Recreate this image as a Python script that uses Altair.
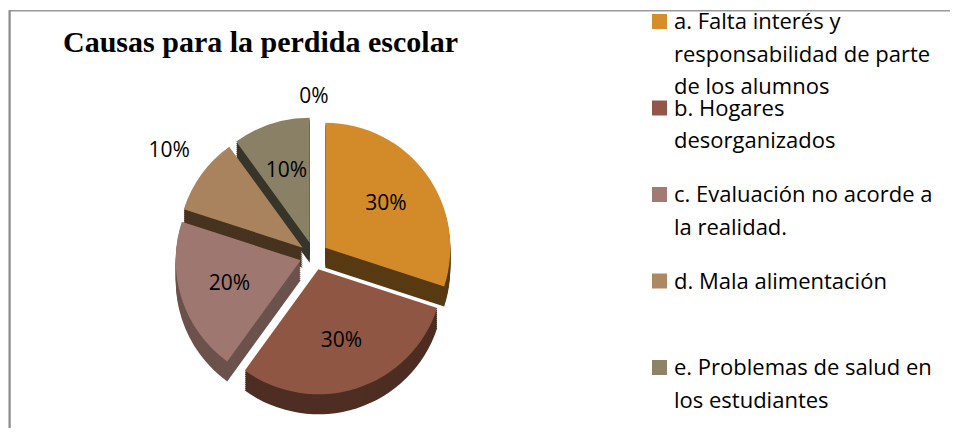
import altair as alt
import pandas as pd

# ---- data ----
keys = ["a", "b", "c", "d", "e", "f"]
categories = [
    "a. Falta interés y\nresponsabilidad de parte\nde los alumnos",
    "b. Hogares\ndesorganizados",
    "c. Evaluación no acorde a\nla realidad.",
    "d. Mala alimentación",
    "e. Problemas de salud en\nlos estudiantes",
    "",
]
values = [30, 30, 20, 10, 10, 0]
title_text = "Causas para la perdida escolar"

top_colors = ["#D38B2A", "#8F5743", "#9E7870", "#A9825E", "#8A8066", "#8A8066"]
side_colors = ["#583A13", "#4E2D22", "#6C524C", "#47331F", "#38352A", "#38352A"]
legend_colors = ["#D58E2A", "#93574A", "#A07A73", "#AC8863", "#8D8468"]

pie_df = pd.DataFrame({"key": keys, "label": categories, "value": values,
                       "idx": list(range(len(keys)))})
legend_df = pd.DataFrame({"key": keys[:5], "label": categories[:5],
                          "idx": list(range(5))})

# ---- geometry (styles) ----
W, H = 942, 420
CX, CY, R, EXP, DEPTH = 305, 248, 125, 14, 20

base = (
    alt.Chart(pie_df)
    .transform_window(cum="sum(value)", sort=[alt.SortField("idx")], frame=[None, 0])
    .transform_joinaggregate(total="sum(value)")
    .transform_calculate(
        t1="2*PI*datum.cum/datum.total",
        t0="2*PI*(datum.cum-datum.value)/datum.total",
    )
    .transform_calculate(mid="(datum.t0+datum.t1)/2")
    .transform_calculate(
        cx=f"{CX}+{EXP}*sin(datum.mid)",
        cy=f"{CY}-{EXP}*cos(datum.mid)",
        pct="format(datum.value/datum.total, '.0%')",
    )
)

def arc_layer(colors, offset):
    return base.mark_arc(radius=R, yOffset=offset).encode(
        x=alt.X("cx:Q", scale=None),
        y=alt.Y("cy:Q", scale=None),
        theta=alt.Theta("t0:Q", scale=None, stack=None),
        theta2="t1:Q",
        color=alt.Color("key:N", scale=alt.Scale(domain=keys, range=colors), legend=None),
    )

layers = []
for d in range(DEPTH, 0, -2):
    layers.append(arc_layer(side_colors, d))
layers.append(arc_layer(top_colors, 0))

labels = (
    base.transform_calculate(
        lr=f"datum.value==0 ? {R+20} : (datum.key=='d' ? {R+40} : {0.6*R})"
    )
    .transform_calculate(
        lx="datum.cx+datum.lr*sin(datum.mid)",
        ly="datum.cy-datum.lr*cos(datum.mid)",
    )
    .mark_text(font="Open Sans", fontSize=21, color="#000000")
    .encode(
        x=alt.X("lx:Q", scale=None),
        y=alt.Y("ly:Q", scale=None),
        text="pct:N",
    )
)
layers.append(labels)

leg_y = alt.Y("idx:Q", scale=alt.Scale(domain=[0, 4], range=[13.5, 359.5]), axis=None)
swatches = alt.Chart(legend_df).mark_square(size=225, opacity=1).encode(
    x=alt.value(650.5),
    y=leg_y,
    color=alt.Color("key:N", scale=alt.Scale(domain=keys[:5], range=legend_colors), legend=None),
)
leg_text = alt.Chart(legend_df).mark_text(
    font="Open Sans", fontSize=22, align="left", baseline="alphabetic",
    dy=7.5, lineBreak="\n", lineHeight=32.5, color="#000000",
).encode(x=alt.value(665), y=leg_y, text="label:N")
layers += [swatches, leg_text]

title = alt.Chart(pd.DataFrame({"t": [title_text]})).mark_text(
    font="Liberation Serif", fontSize=30, fontWeight="bold", align="left",
    baseline="alphabetic", color="#000000",
).encode(x=alt.value(54), y=alt.value(44), text="t:N")

border_top = alt.Chart(pd.DataFrame({"t": [0]})).mark_rule(color="#999999", strokeWidth=1.6).encode(
    x=alt.value(0), x2=alt.value(W), y=alt.value(2.8))
border_left = alt.Chart(pd.DataFrame({"t": [0]})).mark_rule(color="#8A8A8A", strokeWidth=2.2).encode(
    x=alt.value(0.6), y=alt.value(2), y2=alt.value(H))
layers += [title, border_top, border_left]

chart = (
    alt.layer(*layers)
    .resolve_scale(color="independent")
    .properties(width=W, height=H, padding=0,
                autosize=alt.AutoSizeParams(type="fit", contains="padding"))
    .configure_view(stroke=None)
)

chart.save("out.html", embed_options={"renderer": "svg", "actions": False})
